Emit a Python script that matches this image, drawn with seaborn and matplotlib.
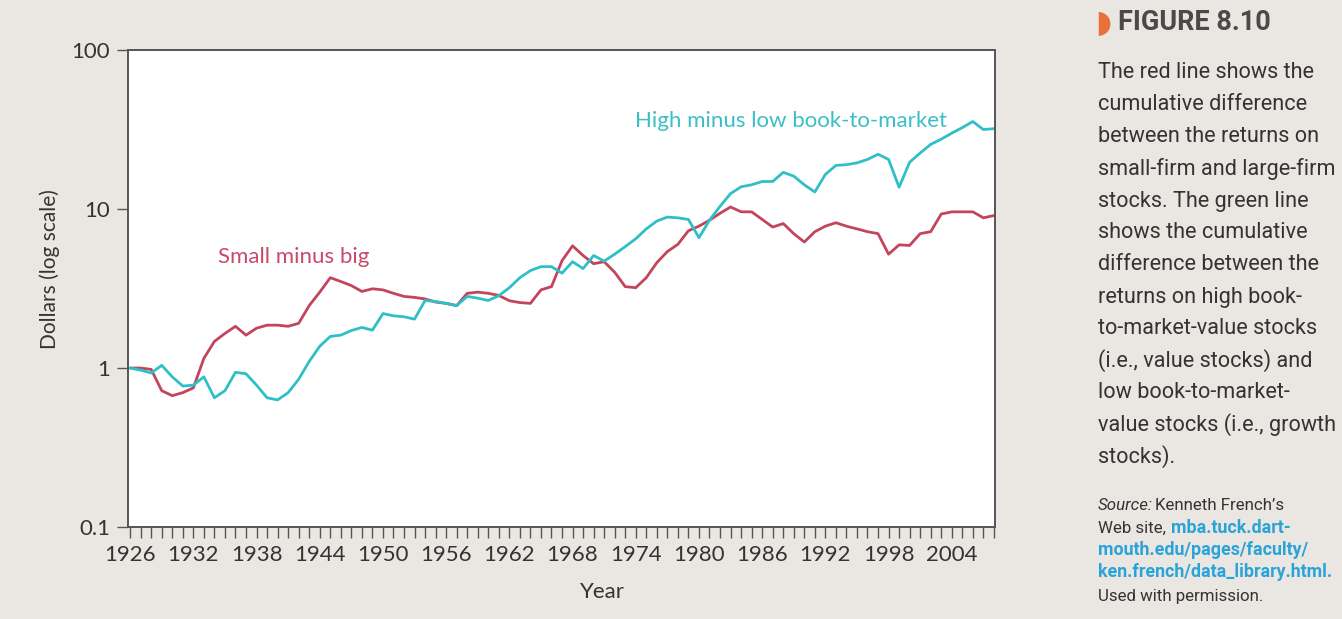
import pandas as pd
import seaborn as sns
import matplotlib.pyplot as plt
from matplotlib.ticker import FixedLocator, NullFormatter

# cumulative $ values, one per year 1926-2008
years = list(range(1926, 2009))
small_minus_big = [
    1.00, 1.00, 0.98, 0.72, 0.67, 0.70, 0.75, 1.15, 1.47, 1.65,
    1.83, 1.61, 1.78, 1.86, 1.86, 1.83, 1.91, 2.47, 3.00, 3.70,
    3.50, 3.30, 3.03, 3.15, 3.10, 2.95, 2.82, 2.78, 2.72, 2.60,
    2.55, 2.47, 2.95, 3.00, 2.95, 2.86, 2.65, 2.58, 2.55, 3.10,
    3.25, 4.73, 5.87, 5.10, 4.53, 4.66, 4.00, 3.25, 3.20, 3.70,
    4.60, 5.40, 6.00, 7.30, 7.80, 8.50, 9.40, 10.3, 9.60, 9.60,
    8.60, 7.70, 8.10, 7.00, 6.20, 7.20, 7.80, 8.20, 7.80, 7.50,
    7.20, 7.00, 5.20, 5.95, 5.90, 7.00, 7.20, 9.30, 9.60, 9.60,
    9.60, 8.80, 9.10,
]
high_minus_low = [
    1.00, 0.97, 0.93, 1.04, 0.88, 0.77, 0.78, 0.88, 0.65, 0.72,
    0.94, 0.92, 0.78, 0.65, 0.63, 0.70, 0.85, 1.10, 1.37, 1.58,
    1.61, 1.72, 1.80, 1.73, 2.20, 2.13, 2.10, 2.03, 2.66, 2.62,
    2.55, 2.47, 2.82, 2.75, 2.66, 2.85, 3.20, 3.70, 4.10, 4.34,
    4.34, 3.95, 4.66, 4.22, 5.10, 4.70, 5.20, 5.80, 6.50, 7.50,
    8.40, 8.90, 8.80, 8.60, 6.60, 8.50, 10.4, 12.5, 13.8, 14.2,
    14.9, 14.9, 17.0, 16.1, 14.2, 12.8, 16.5, 18.8, 19.0, 19.5,
    20.5, 22.1, 20.5, 13.7, 19.7, 22.5, 25.5, 27.5, 30.0, 32.5,
    35.5, 31.6, 32.0,
]
series_names = ["Small minus big", "High minus low book-to-market"]
year_labels = list(range(1926, 2005, 6))
y_ticks = [0.1, 1, 10, 100]

df = pd.DataFrame({
    "Year": years * 2,
    "Dollars": small_minus_big + high_minus_low,
    "Series": [series_names[0]] * len(years) + [series_names[1]] * len(years),
})

red = "#c4445c"
cyan = "#2fbfc6"
page = "#eae7e2"
ink = "#333333"

sns.set_style("ticks")
plt.rcParams["font.family"] = ["Lato", "DejaVu Sans"]

fig = plt.figure(figsize=(13.42, 6.19), dpi=100, facecolor=page)
ax = fig.add_axes([0.0954, 0.1486, 0.6460, 0.7706])
ax.set_facecolor("white")

sns.lineplot(data=df, x="Year", y="Dollars", hue="Series",
             palette=[red, cyan], linewidth=2.0, legend=False, ax=ax)

ax.set_yscale("log")
ax.set_ylim(0.1, 100)
ax.set_xlim(1925.8, 2008.1)
ax.yaxis.set_major_locator(FixedLocator(y_ticks))
ax.set_yticklabels(["0.1", "1", "10", "100"])
ax.yaxis.set_minor_locator(FixedLocator([]))
ax.xaxis.set_major_locator(FixedLocator(year_labels))
ax.xaxis.set_minor_locator(FixedLocator(years))
ax.xaxis.set_minor_formatter(NullFormatter())

ax.tick_params(axis="both", which="both", direction="out", length=8,
               width=1.0, color="#555555", labelsize=16,
               labelcolor=ink, pad=5)
for s in ax.spines.values():
    s.set_visible(True)
    s.set_color("#555555")
    s.set_linewidth(1.4)

ax.set_xlabel("Year", fontsize=16, color=ink, va="top")
ax.xaxis.set_label_coords(0.547, -0.115)
ax.set_ylabel("Dollars (log scale)", fontsize=15, color=ink)
ax.yaxis.set_label_coords(-0.078, 0.541)

ax.text(1934.3, 5.0, series_names[0], color="#c84a6a", fontsize=16,
        va="center", ha="left")
ax.text(1973.9, 36.0, series_names[1], color="#3bbfc6", fontsize=16,
        va="center", ha="left")

# caption on the right side
narrow = ["Roboto", "DejaVu Sans"]
fig.text(0.816, 0.963, "\u25D7", color="#e8703a", fontsize=22,
         family="DejaVu Sans", va="center", ha="left")
fig.text(0.833, 0.963, "FIGURE 8.10", color="#4a4a4a", fontsize=19.5,
         fontweight="bold", family=narrow, stretch="condensed",
         va="center", ha="left")

caption = [
    "The red line shows the",
    "cumulative difference",
    "between the returns on",
    "small-firm and large-firm",
    "stocks. The green line",
    "shows the cumulative",
    "difference between the",
    "returns on high book-",
    "to-market-value stocks",
    "(i.e., value stocks) and",
    "low book-to-market-",
    "value stocks (i.e., growth",
    "stocks).",
]
for i, line in enumerate(caption):
    fig.text(0.818, 1 - (73 + 32 * i) / 619, line, color=ink,
             fontsize=15.6, family=narrow, stretch="condensed",
             va="center", ha="left")

src_y = [506, 528, 550, 572, 596]
link = "#2aa3d8"
small = dict(fontsize=12.2, family=narrow, stretch="condensed",
             va="center", ha="left")
link_font = dict(small, fontsize=12.8)


def follow(prev, text, gap=2, **kw):
    # place text right after another text artist
    return ax.annotate(text, xy=(1, 0.5), xycoords=prev, xytext=(gap, 0),
                       textcoords="offset points", annotation_clip=False,
                       **kw)


t = fig.text(0.818, 1 - src_y[0] / 619, "Source:", style="italic",
             color=ink, **small)
follow(t, "Kenneth French\u2019s", color=ink, **small)
t = fig.text(0.818, 1 - src_y[1] / 619, "Web site,", color=ink, **small)
follow(t, "mba.tuck.dart-", gap=4, color=link, fontweight="bold",
       **link_font)
fig.text(0.818, 1 - src_y[2] / 619, "mouth.edu/pages/faculty/", color=link,
         fontweight="bold", **link_font)
fig.text(0.818, 1 - src_y[3] / 619, "ken.french/data_library.html.",
         color=link, fontweight="bold", **link_font)
fig.text(0.818, 1 - src_y[4] / 619, "Used with permission.", color=ink,
         **small)

fig.savefig("out.png", dpi=100, facecolor=page)
